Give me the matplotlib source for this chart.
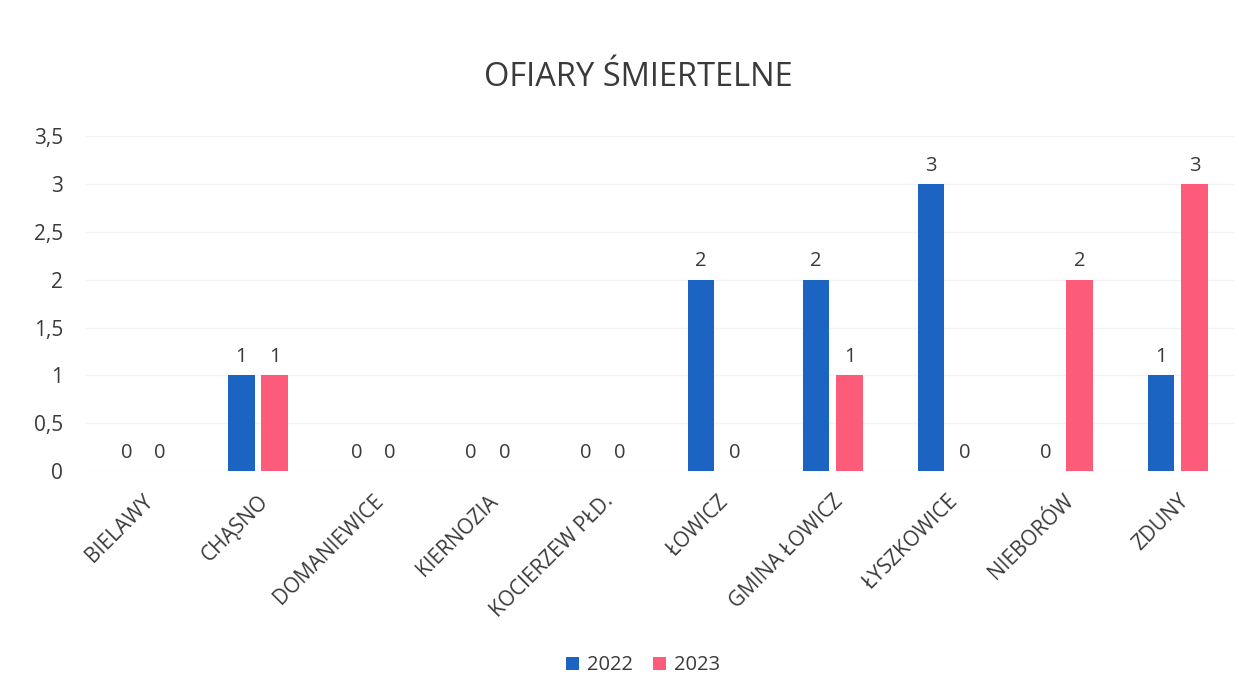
import matplotlib
matplotlib.use("Agg")
import matplotlib.pyplot as plt
import numpy as np

gminy = ["BIELAWY", "CHĄSNO", "DOMANIEWICE", "KIERNOZIA", "KOCIERZEW PŁD.",
         "ŁOWICZ", "GMINA ŁOWICZ", "ŁYSZKOWICE", "NIEBORÓW", "ZDUNY"]
ofiary_2022 = [0, 1, 0, 0, 0, 2, 2, 3, 0, 1]
ofiary_2023 = [0, 1, 0, 0, 0, 0, 1, 0, 2, 3]
y_ticks = [0, 0.5, 1, 1.5, 2, 2.5, 3, 3.5]

plt.rcParams['font.family'] = ['Open Sans', 'DejaVu Sans']
text_color = '#3a3a3a'

fig = plt.figure(figsize=(12.39, 6.94), dpi=100)
ax = fig.add_axes([0.069, 0.321, 0.928, 0.483])

x = np.arange(len(gminy))
w = 0.23
off = 0.145
b1 = ax.bar(x - off, ofiary_2022, w, color='#1C64C2', label='2022', zorder=3)
b2 = ax.bar(x + off, ofiary_2023, w, color='#FC5C7A', label='2023', zorder=3)

for bars in (b1, b2):
    ax.bar_label(bars, padding=6, fontsize=14.5, color=text_color)

ax.set_xlim(-0.5, len(gminy) - 0.5)
ax.set_ylim(0, 3.5)
ax.set_yticks(y_ticks)
ax.set_yticklabels([f"{v:g}".replace('.', ',') for v in y_ticks])

ax.set_xticks(x)
ax.set_xticklabels(gminy, rotation=45, ha='right', va='top',
                   rotation_mode='anchor')
ax.tick_params(axis='both', length=0, labelcolor=text_color)
ax.tick_params(axis='y', pad=16, labelsize=15)
ax.tick_params(axis='x', pad=14, labelsize=15)

ax.grid(axis='y', color='#f3f3f3', linewidth=1, zorder=0)
for s in ax.spines.values():
    s.set_visible(False)

fig.text(0.515, 0.888, "OFIARY ŚMIERTELNE", ha='center', va='center',
         fontsize=23.5, color=text_color)

ax.legend(loc='center', bbox_to_anchor=(0.485, -0.579), ncol=2, frameon=False,
          fontsize=14.5, handlelength=0.65, handleheight=0.65, handletextpad=0.4,
          columnspacing=1.0, labelcolor=text_color)

fig.savefig("out.png", dpi=100)
